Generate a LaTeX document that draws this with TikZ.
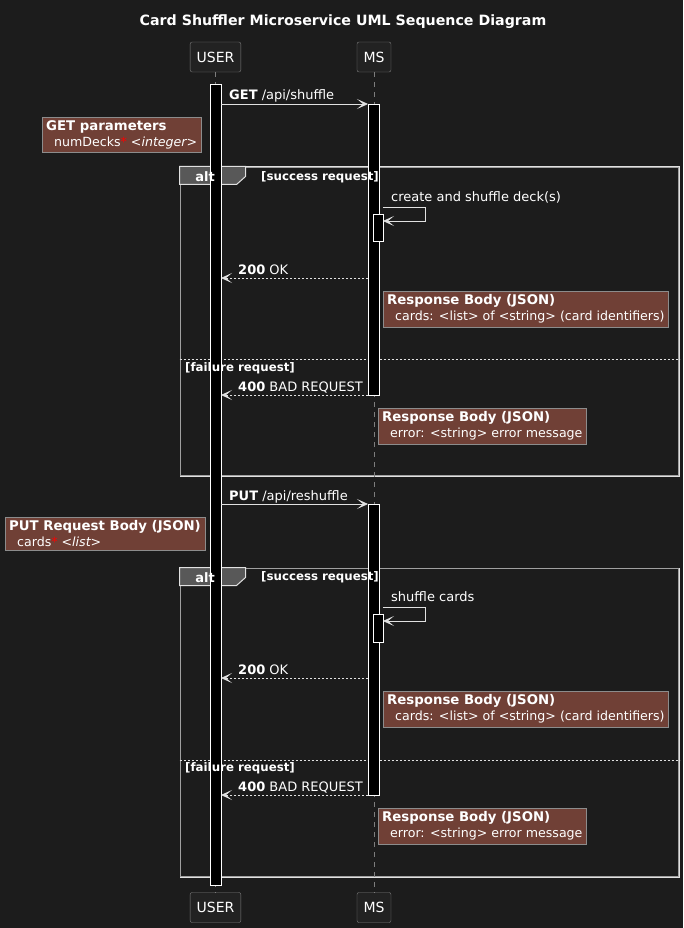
\documentclass[tikz,border=0pt]{standalone}
\usepackage{fontspec}
\setmainfont{DejaVu Sans}
\usetikzlibrary{arrows.meta, calc, positioning}
\definecolor{bgcol}{RGB}{28,28,28}
\definecolor{boxfill}{RGB}{34,34,34}
\definecolor{boxline}{RGB}{125,125,125}
\definecolor{notefill}{RGB}{112,64,54}
\definecolor{noteline}{RGB}{140,140,140}
\definecolor{tabfill}{RGB}{88,88,88}
\definecolor{lightline}{RGB}{225,225,225}
\definecolor{innerline}{RGB}{160,160,160}
\definecolor{barfill}{RGB}{0,0,0}

\tikzset{
  actor/.style={draw=boxline, fill=boxfill, rounded corners=2pt, text=white,
    minimum height=30pt, inner xsep=6.5pt, font=\fontsize{14}{16}\selectfont},
  barline/.style={draw=white, line width=0.8pt},
  lifeline/.style={draw=boxline, line width=0.8pt, dash pattern=on 5pt off 5pt},
  msg/.style={draw=lightline, line width=0.8pt,
    -{Stealth[length=11pt, width=10pt, inset=6pt]}},
  reply/.style={msg, dash pattern=on 2pt off 2pt},
  msglbl/.style={text=white, inner sep=0pt, font=\fontsize{13}{15}\selectfont},
  altframe/.style={draw=lightline, line width=1pt, inner sep=0pt},
  framein/.style={draw=innerline, line width=0.8pt},
  tabshape/.style={draw=lightline, fill=tabfill, line width=1pt},
  framelbl/.style={text=white, inner sep=0pt, font=\bfseries\fontsize{11.8}{13}\selectfont},
  notebox/.style={draw=noteline, fill=notefill, text=white, align=left,
    inner xsep=4pt, inner ysep=3.5pt, font=\fontsize{12.6}{16}\selectfont},
}
\newcommand{\notehead}[1]{{\bfseries\fontsize{13.3}{16}\selectfont #1}}

\begin{document}
\begin{tikzpicture}[x=1pt, y=-1pt]
  \fill[bgcol] (0,0) rectangle (683,928);
  \useasboundingbox (0,0) rectangle (683,928);

  \node[text=white, font=\bfseries\fontsize{14.2}{16}\selectfont] (title) at (343,22)
    {Card Shuffler Microservice UML Sequence Diagram};

  \node[altframe, minimum width=499pt, minimum height=309pt] (alt1) at (429.5,321.5) {};
  \node[altframe, minimum width=499pt, minimum height=309pt] (alt2) at (429.5,722.5) {};
  \draw[framein] ($(alt1.north west)+(1.2,1.2)$) rectangle ($(alt1.south east)+(-1.2,-1.2)$);
  \draw[framein] ($(alt2.north west)+(1.2,1.2)$) rectangle ($(alt2.south east)+(-1.2,-1.2)$);
  \draw[tabshape] (alt1.north west) -- ++(66,0) -- ++(0,10) -- ++(-9,8) -- ++(-57,0) -- cycle;
  \draw[tabshape] (alt2.north west) -- ++(66,0) -- ++(0,10) -- ++(-9,8) -- ++(-57,0) -- cycle;
  \draw[lightline, line width=0.8pt, dash pattern=on 2pt off 2pt] (alt1.west |- 0,359) -- (alt1.east |- 0,359);
  \draw[lightline, line width=0.8pt, dash pattern=on 2pt off 2pt] (alt2.west |- 0,760) -- (alt2.east |- 0,760);

  \node[actor] (userTop) at (215.5,57) {USER};
  \node[actor] (msTop) at (374,57) {MS};
  \node[actor] (userBot) at (215.5,907.5) {USER};
  \node[actor] (msBot) at (374,907.5) {MS};
  \draw[lifeline] (userTop) -- (userBot);
  \draw[lifeline] (msTop) -- (msBot);

  \coordinate (uA) at (210,84);   \coordinate (uB) at (221,885);
  \coordinate (m1A) at (368,104); \coordinate (m1B) at (379,395);
  \coordinate (s1A) at (373,214); \coordinate (s1B) at (383,241);
  \coordinate (m2A) at (368,504); \coordinate (m2B) at (379,795);
  \coordinate (s2A) at (373,614); \coordinate (s2B) at (383,642);
  \foreach \a/\b in {uA/uB, m1A/m1B, s1A/s1B, m2A/m2B, s2A/s2B} {
    \fill[barfill] (\a) rectangle (\b);
    \draw[barline] (\a) rectangle (\b);
  }

  \node[framelbl, font=\bfseries\fontsize{13}{15}\selectfont] (alt1tag) at (205,177) {alt};
  \node[framelbl, font=\bfseries\fontsize{13}{15}\selectfont] (alt2tag) at (205,578) {alt};
  \node[framelbl, anchor=west] (ok1) at (261,177) {[success request]};
  \node[framelbl, anchor=west] (ok2) at (261,577) {[success request]};
  \node[framelbl, anchor=west] (fail1) at (185,368) {[failure request]};
  \node[framelbl, anchor=west] (fail2) at (185,768) {[failure request]};

  \draw[msg] (uB |- m1A) -- (m1A);
  \node[msglbl, anchor=base west] (getLbl) at (229,100) {\textbf{GET} /api/shuffle};
  \draw[msg] (s1B |- 0,207) -- ++(42,0) -- ++(0,14) -- (s1B |- 0,221);
  \node[msglbl, anchor=base west] (mkLbl) at (391,201) {create and shuffle deck(s)};
  \draw[reply] (m1A |- 0,278) -- (uB |- 0,278);
  \node[msglbl, anchor=base west] (ok1Lbl) at (238,274) {\textbf{200} OK};
  \draw[reply] (m1A |- m1B) -- (uB |- m1B);
  \node[msglbl, anchor=base west] (bad1Lbl) at (238,391) {\textbf{400} BAD REQUEST};

  \draw[msg] (uB |- m2A) -- (m2A);
  \node[msglbl, anchor=base west] (putLbl) at (229,500) {\textbf{PUT} /api/reshuffle};
  \draw[msg] (s2B |- 0,607) -- ++(42,0) -- ++(0,14) -- (s2B |- 0,621);
  \node[msglbl, anchor=base west] (shLbl) at (391,601) {shuffle cards};
  \draw[reply] (m2A |- 0,678) -- (uB |- 0,678);
  \node[msglbl, anchor=base west] (ok2Lbl) at (238,674) {\textbf{200} OK};
  \draw[reply] (m2A |- m2B) -- (uB |- m2B);
  \node[msglbl, anchor=base west] (bad2Lbl) at (238,791) {\textbf{400} BAD REQUEST};

  \node[notebox, anchor=north west] (getNote) at (42,117)
    {\notehead{GET parameters}\\\hspace*{8pt}numDecks{\color{red}*} \textit{<integer>}};
  \node[notebox, anchor=north west] (cards1) at (383,291)
    {\notehead{Response Body (JSON)}\\\hspace*{8pt}cards: <list> of <string> (card identifiers)};
  \node[notebox, anchor=north west] (err1) at (378,408)
    {\notehead{Response Body (JSON)}\\\hspace*{8pt}error: <string> error message};
  \node[notebox, anchor=north west] (putNote) at (5,517)
    {\notehead{PUT Request Body (JSON)}\\\hspace*{8pt}cards{\color{red}*} \textit{<list>}};
  \node[notebox, anchor=north west] (cards2) at (383,691)
    {\notehead{Response Body (JSON)}\\\hspace*{8pt}cards: <list> of <string> (card identifiers)};
  \node[notebox, anchor=north west] (err2) at (378,808)
    {\notehead{Response Body (JSON)}\\\hspace*{8pt}error: <string> error message};
\end{tikzpicture}
\end{document}
